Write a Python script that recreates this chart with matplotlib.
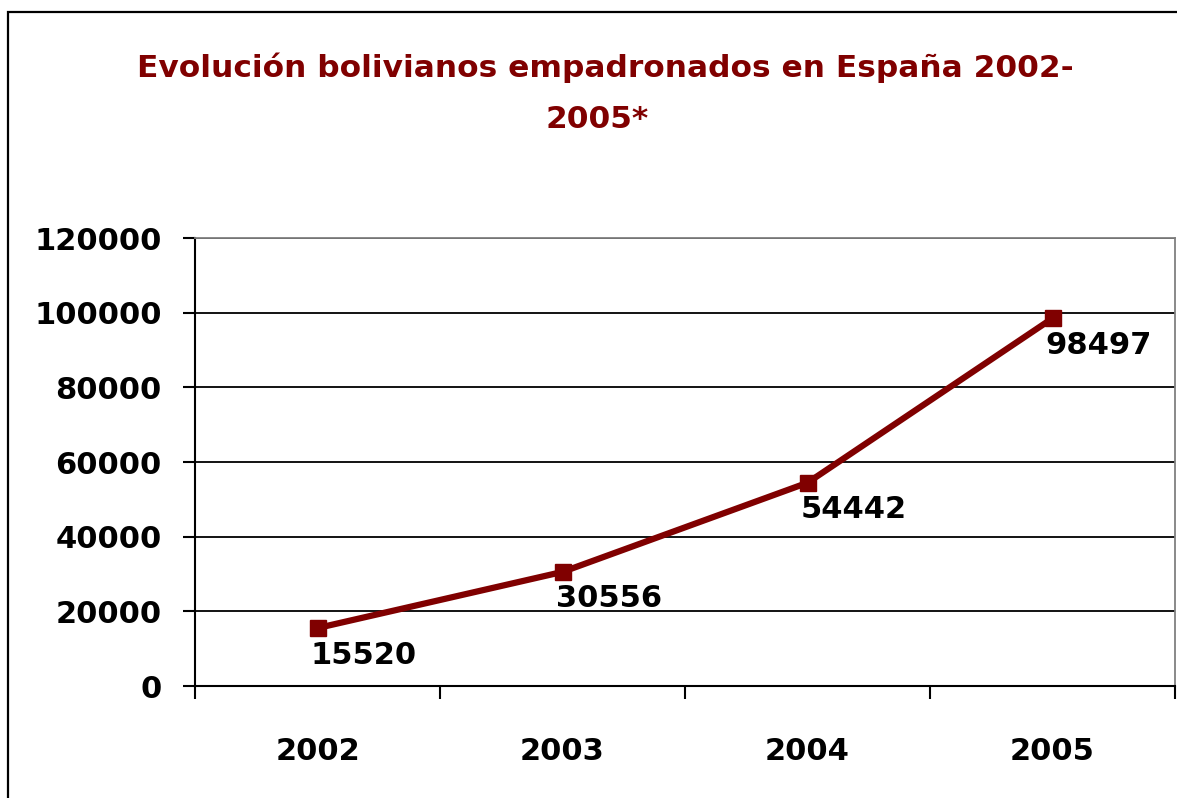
import numpy as np
import matplotlib.pyplot as plt
from matplotlib.patches import Rectangle

# data
years = ['2002', '2003', '2004', '2005']
values = [15520, 30556, 54442, 98497]
yticks = [0, 20000, 40000, 60000, 80000, 100000, 120000]

red = '#800000'
W, H = 1177, 798
plt.rcParams['font.family'] = ['DejaVu Sans']

fig = plt.figure(figsize=(W/100, H/100), dpi=100)

# outer frame (only left and top visible)
fig.patches.append(Rectangle((8/W, -0.1), 1.2, 1 - 12/H + 0.1, transform=fig.transFigure,
                             fill=False, edgecolor='black', linewidth=1.6))

ax = fig.add_axes([195/W, (H-686)/H, (1175-195)/W, (686-238)/H])
x = np.arange(len(years))
ax.plot(x, values, color=red, linewidth=4.5, marker='s', markersize=11, zorder=3)

ax.set_xlim(-0.5, 3.5)
ax.set_ylim(0, 120000)
ax.set_yticks(yticks)
ax.set_yticklabels([str(v) for v in yticks], fontsize=22, fontweight='bold')
ax.yaxis.grid(True, color='black', linewidth=1.3)
ax.set_axisbelow(True)

ax.set_xticks(np.arange(-0.5, 4, 1))
ax.set_xticklabels([])
ax.set_xticks(x, minor=True)
ax.set_xticklabels(years, minor=True, fontsize=22, fontweight='bold')
ax.tick_params(axis='x', which='major', direction='out', length=9, width=1.5)
ax.tick_params(axis='x', which='minor', length=0, pad=37)
ax.tick_params(axis='y', direction='out', length=9, width=1.5, pad=15)

for s in ['left', 'bottom']:
    ax.spines[s].set_linewidth(1.5)
for s in ['top', 'right']:
    ax.spines[s].set_color('#808080')
    ax.spines[s].set_linewidth(1.3)

for xi, v in zip(x, values):
    ax.annotate(str(v), (xi, v), xytext=(-5, -9), textcoords='offset points',
                ha='left', va='top', fontsize=22, fontweight='bold')

fig.text(605/W, 1 - 68/H, 'Evolución bolivianos empadronados en España 2002-',
         ha='center', va='center', color=red, fontsize=22.5, fontweight='bold')
fig.text(597/W, 1 - 120/H, '2005*', ha='center', va='center', color=red,
         fontsize=22.5, fontweight='bold')

fig.savefig('out.png', dpi=100)
